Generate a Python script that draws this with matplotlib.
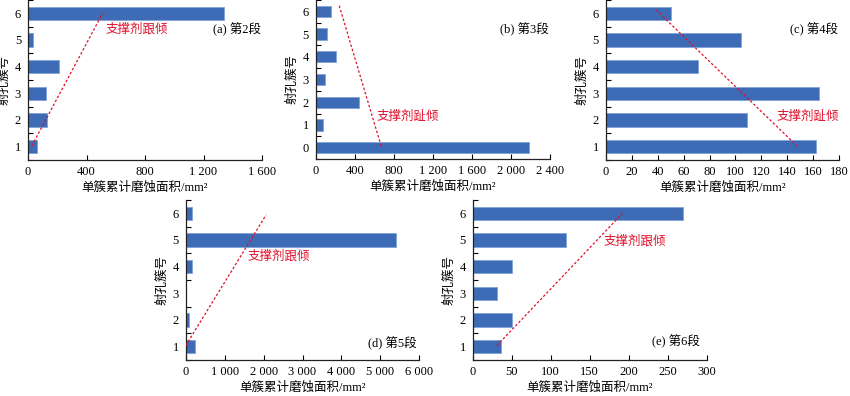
import matplotlib
matplotlib.use("Agg")
import matplotlib.pyplot as plt

plt.rcParams['font.family'] = ['Liberation Serif', 'Noto Sans CJK SC']
plt.rcParams['font.size'] = 9

# ---- data ----
clusters_a = [1, 2, 3, 4, 5, 6]
values_a = [61, 127, 125, 211, 32, 1338]
ticks_a = [0, 400, 800, 1200, 1600]
ticklabels_a = ['0', '400', '800', '1 200', '1 600']

clusters_b = [0, 1, 2, 3, 4, 5, 6]
values_b = [2189, 72, 440, 99, 205, 113, 153]
ticks_b = [0, 400, 800, 1200, 1600, 2000, 2400]
ticklabels_b = ['0', '400', '800', '1 200', '1 600', '2 000', '2 400']

clusters_c = [1, 2, 3, 4, 5, 6]
values_c = [162, 109, 164, 71, 104, 50]
ticks_c = [0, 20, 40, 60, 80, 100, 120, 140, 160, 180]
ticklabels_c = [str(t) for t in ticks_c]

clusters_d = [1, 2, 3, 4, 5, 6]
values_d = [231, 86, 0, 171, 5394, 154]
ticks_d = [0, 1000, 2000, 3000, 4000, 5000, 6000]
ticklabels_d = ['0', '1 000', '2 000', '3 000', '4 000', '5 000', '6 000']

clusters_e = [1, 2, 3, 4, 5, 6]
values_e = [36, 50, 31, 50, 120, 269]
ticks_e = [0, 50, 100, 150, 200, 250, 300]
ticklabels_e = [str(t) for t in ticks_e]

titles = ['(a) 第2段', '(b) 第3段', '(c) 第4段', '(d) 第5段', '(e) 第6段']
trend_labels = ['支撑剂跟倾', '支撑剂趾倾', '支撑剂趾倾', '支撑剂跟倾', '支撑剂跟倾']
# trend line endpoints (x0, y0, x1, y1) in data units
trend_a = [27, 1.04, 510, 6.0]
trend_b = [241, 6.25, 675, 0.0]
trend_c = [39, 6.12, 148, 1.0]
trend_d = [0, 1.04, 2063, 5.94]
trend_e = [31, 1.04, 192, 6.0]

xlabel = '单簇累计磨蚀面积/mm²'
ylabel = '射孔簇号'

BAR = '#3d6bb6'
EDGE = '#7fa3d8'
RED = '#e0102a'

fig = plt.figure(figsize=(8.5, 3.96), dpi=100)
W, H = 850, 396

def make_ax(left, right, top, bottom):
    return fig.add_axes([left / W, 1 - bottom / H, (right - left) / W, (bottom - top) / H])

panels = [
    dict(rect=(28, 262, 0, 160), cats=clusters_a, vals=values_a, ticks=ticks_a, tl=ticklabels_a,
         trend=trend_a, title_pos=(1595, 5.41), trend_pos=(532, 5.41), trend_ha='left'),
    dict(rect=(315.7, 550, 0, 159), cats=clusters_b, vals=values_b, ticks=ticks_b, tl=ticklabels_b,
         trend=trend_b, title_pos=(2385, 5.22), trend_pos=(624, 1.35), trend_ha='left'),
    dict(rect=(605.7, 839.3, 0, 160), cats=clusters_c, vals=values_c, ticks=ticks_c, tl=ticklabels_c,
         trend=trend_c, title_pos=(179, 5.4), trend_pos=(131.5, 2.1), trend_ha='left'),
    dict(rect=(185.7, 419.3, 200, 360), cats=clusters_d, vals=values_d, ticks=ticks_d, tl=ticklabels_d,
         trend=trend_d, title_pos=(5930, 1.13), trend_pos=(1582, 4.37), trend_ha='left'),
    dict(rect=(472.7, 706.7, 200, 360), cats=clusters_e, vals=values_e, ticks=ticks_e, tl=ticklabels_e,
         trend=trend_e, title_pos=(291, 1.19), trend_pos=(167.4, 4.96), trend_ha='left'),
]

for i, p in enumerate(panels):
    ax = make_ax(*p['rect'])
    cats = p['cats']
    ax.barh(cats, p['vals'], height=0.5, color=BAR, edgecolor=EDGE, linewidth=0.6, zorder=2)
    ax.set_xlim(p['ticks'][0], p['ticks'][-1])
    ax.set_ylim(min(cats) - 0.5, max(cats) + 0.5)
    ax.set_xticks(p['ticks'])
    ax.set_xticklabels(p['tl'], fontsize=9)
    ax.set_yticks(cats)
    ax.set_yticklabels([str(c) for c in cats], fontsize=9)
    ax.set_yticks([c + 0.5 for c in cats[:-1]] + [min(cats) - 0.5, max(cats) + 0.5], minor=True)
    ax.tick_params(axis='y', which='major', length=0, pad=5)
    ax.tick_params(axis='y', which='minor', length=3.5, direction='in', width=0.8)
    ax.tick_params(axis='x', which='major', length=3.5, direction='in', width=0.8, pad=4)
    for s in ('top', 'right'):
        ax.spines[s].set_visible(False)
    for s in ('left', 'bottom'):
        ax.spines[s].set_linewidth(0.9)
        ax.spines[s].set_color('#222222')
    ax.set_xlabel(xlabel, fontsize=9, labelpad=3)
    ax.set_ylabel(ylabel, fontsize=9, labelpad=3)
    x0, y0, x1, y1 = p['trend']
    ax.plot([x0, x1], [y0, y1], color=RED, linestyle=(0, (2, 1.6)), linewidth=0.9, zorder=3)
    ax.text(p['trend_pos'][0], p['trend_pos'][1], trend_labels[i], color=RED, fontsize=9,
            ha=p['trend_ha'], va='center')
    ax.text(p['title_pos'][0], p['title_pos'][1], titles[i], color='black', fontsize=9,
            ha='right', va='center')

fig.savefig('out.png', dpi=100)
